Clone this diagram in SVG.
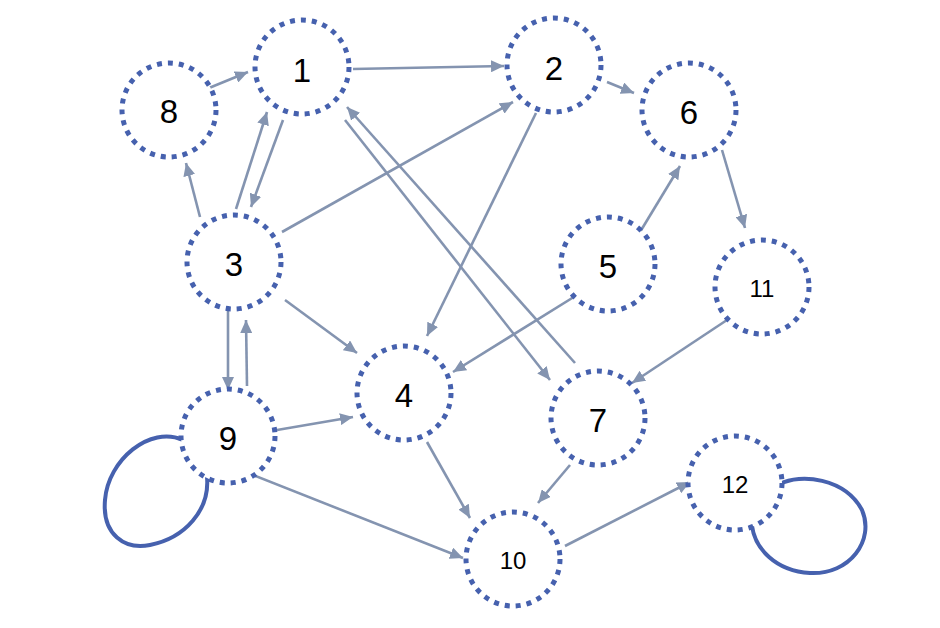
<svg xmlns="http://www.w3.org/2000/svg" width="940" height="628" viewBox="0 0 940 628">
<defs>
<style>
.node circle{fill:#fff;stroke:#4661AE;stroke-width:5;stroke-dasharray:5 6}
.node text{font-family:"Liberation Sans",Arial,sans-serif;fill:#000;text-anchor:middle}
.big{font-size:33px}
.small{font-size:24px}
.edges line{stroke:#8494B0;stroke-width:2.6;marker-end:url(#arr)}
.loop{fill:none;stroke:#4661AE;stroke-width:4}
</style>
<marker id="arr" markerUnits="userSpaceOnUse" markerWidth="14" markerHeight="12" refX="13" refY="6" orient="auto">
<path d="M0,0 L13,6 L0,12 Z" fill="#8494B0"/>
</marker>
</defs>
<rect width="940" height="628" fill="#fff"/>
<g id="connectors" class="edges">
<line x1="209" y1="88" x2="248" y2="72"/>
<line x1="353" y1="69" x2="504" y2="66"/>
<line x1="607" y1="82" x2="634" y2="93"/>
<line x1="283" y1="120" x2="251" y2="207"/>
<line x1="236" y1="209" x2="267" y2="112"/>
<line x1="200" y1="217" x2="186" y2="163"/>
<line x1="282" y1="232" x2="513" y2="102"/>
<line x1="285" y1="300" x2="357" y2="353"/>
<line x1="228" y1="310" x2="228" y2="390"/>
<line x1="247" y1="386" x2="246" y2="320"/>
<line x1="277" y1="430" x2="353" y2="417"/>
<line x1="253" y1="475" x2="463" y2="558"/>
<line x1="536" y1="113" x2="427" y2="336"/>
<line x1="345" y1="120" x2="550" y2="380"/>
<line x1="575" y1="363" x2="347" y2="107"/>
<line x1="640" y1="232" x2="680" y2="166"/>
<line x1="577" y1="295" x2="453" y2="372"/>
<line x1="722" y1="150" x2="745" y2="228"/>
<line x1="730" y1="318" x2="632" y2="383"/>
<line x1="427" y1="442" x2="470" y2="518"/>
<line x1="570" y1="465" x2="538" y2="503"/>
<line x1="565" y1="546" x2="690" y2="482"/>
<path class="loop" d="M183,440 C150,425 108,460 105,500 C102,535 125,550 150,545 C185,538 210,510 207,477"/>
<path class="loop" d="M780,484 C800,473 845,478 862,510 C875,540 850,575 810,573 C775,571 755,548 752,526"/>
</g>
<g id="n1" class="node"><circle cx="302" cy="67" r="47"/><text class="big" x="302" y="82">1</text></g>
<g id="n2" class="node"><circle cx="554" cy="65" r="47"/><text class="big" x="554" y="80">2</text></g>
<g id="n3" class="node"><circle cx="234" cy="262" r="47"/><text class="big" x="234" y="276">3</text></g>
<g id="n4" class="node"><circle cx="404" cy="393" r="47"/><text class="big" x="404" y="407">4</text></g>
<g id="n5" class="node"><circle cx="608" cy="264" r="47"/><text class="big" x="608" y="278">5</text></g>
<g id="n6" class="node"><circle cx="689" cy="110" r="47"/><text class="big" x="689" y="124">6</text></g>
<g id="n7" class="node"><circle cx="598" cy="418" r="47"/><text class="big" x="598" y="432">7</text></g>
<g id="n8" class="node"><circle cx="169" cy="110" r="47"/><text class="big" x="169" y="123">8</text></g>
<g id="n9" class="node"><circle cx="228" cy="436" r="47"/><text class="big" x="228" y="450">9</text></g>
<g id="n10" class="node"><circle cx="513" cy="559" r="47"/><text class="small" x="513" y="569">10</text></g>
<g id="n11" class="node"><circle cx="762" cy="287" r="47"/><text class="small" x="762" y="297">11</text></g>
<g id="n12" class="node"><circle cx="735" cy="483" r="47"/><text class="small" x="735" y="493">12</text></g>
</svg>
